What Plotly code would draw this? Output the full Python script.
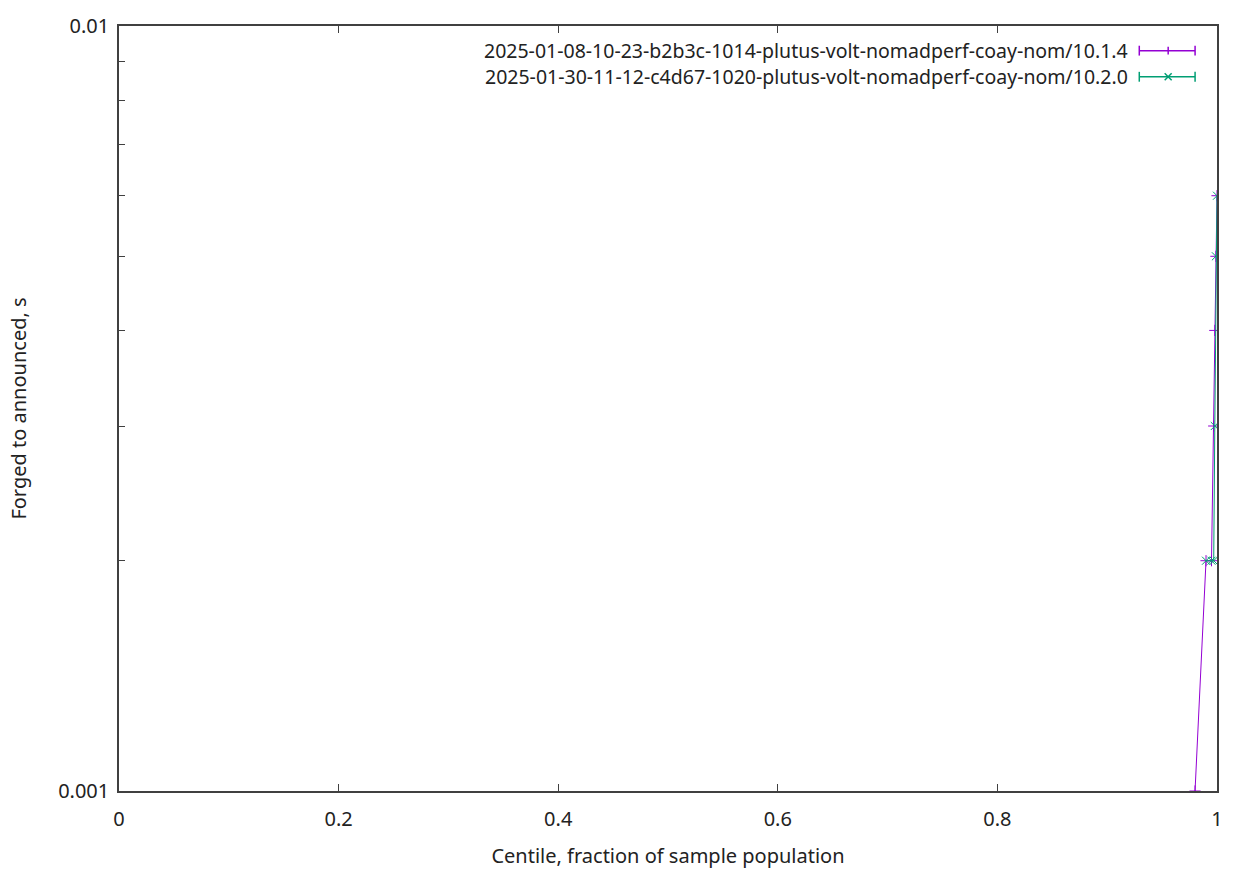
import plotly.graph_objects as go

# ---- data ----
series_names = [
    "2025-01-08-10-23-b2b3c-1014-plutus-volt-nomadperf-coay-nom/10.1.4",
    "2025-01-30-11-12-c4d67-1020-plutus-volt-nomadperf-coay-nom/10.2.0",
]
centiles_a = [0.98, 0.99, 0.995, 0.997, 0.998, 0.999, 1.0]
values_a = [0.001, 0.002, 0.002, 0.003, 0.004, 0.005, 0.006]
centiles_b = [0.99, 0.995, 0.997, 0.998, 0.999, 1.0]
values_b = [0.002, 0.002, 0.002, 0.003, 0.005, 0.006]
x_ticks = [0, 0.2, 0.4, 0.6, 0.8, 1]
x_tick_labels = ["0", "0.2", "0.4", "0.6", "0.8", "1"]
y_ticks = [0.001, 0.002, 0.003, 0.004, 0.005, 0.006, 0.007, 0.008, 0.009, 0.01]
y_tick_labels = ["0.001", "", "", "", "", "", "", "", "", "0.01"]

colors = ["#9400d3", "#009e73"]
symbols = ["cross-thin", "x-thin"]

FONT = "Noto Sans"
FS = 20
W, H = 1235, 876
L, R, T, B = 119, 14, 15, 85
PW, PH = W - L - R, H - T - B

fig = go.Figure()
for xs, ys, c, s, n in [
    (centiles_a, values_a, colors[0], symbols[0], series_names[0]),
    (centiles_b, values_b, colors[1], symbols[1], series_names[1]),
]:
    fig.add_trace(go.Scatter(
        x=xs, y=ys, mode="lines+markers", name=n,
        line=dict(color=c, width=1),
        marker=dict(symbol=s, size=8, color=c, line=dict(color=c, width=1)),
        cliponaxis=True, showlegend=False,
    ))

# gnuplot-style legend drawn in paper coords
def px2x(px):
    return (px - L) / PW

def py2y(py):
    return (H - B - py) / PH

shapes = []
annotations = []
for i, (n, c, s) in enumerate(zip(series_names, colors, symbols)):
    py = 40 + i * 26.5
    y = py2y(py)
    annotations.append(dict(
        x=px2x(1134), y=y, xref="paper", yref="paper", xanchor="right", yanchor="middle",
        text=n, showarrow=False, font=dict(family=FONT, size=19.5, color="#222")))
    x0, x1, xm = px2x(1143), px2x(1199), px2x(1172)
    lw = 1.5
    shapes.append(dict(type="line", xref="paper", yref="paper", x0=x0, x1=x1, y0=y, y1=y,
                       line=dict(color=c, width=lw)))
    for xc in (x0, x1):
        shapes.append(dict(type="line", xref="paper", yref="paper", x0=xc, x1=xc,
                           y0=y - 5 / PH, y1=y + 5 / PH, line=dict(color=c, width=lw)))
    if s == "cross-thin":
        shapes.append(dict(type="line", xref="paper", yref="paper", x0=xm, x1=xm,
                           y0=y - 4 / PH, y1=y + 4 / PH, line=dict(color=c, width=lw)))
    else:
        d = 3.5
        shapes.append(dict(type="line", xref="paper", yref="paper", x0=xm - d / PW, x1=xm + d / PW,
                           y0=y - d / PH, y1=y + d / PH, line=dict(color=c, width=lw)))
        shapes.append(dict(type="line", xref="paper", yref="paper", x0=xm - d / PW, x1=xm + d / PW,
                           y0=y + d / PH, y1=y - d / PH, line=dict(color=c, width=lw)))

AX = "#404040"
fig.update_layout(
    width=W, height=H,
    margin=dict(l=L, r=R, t=T, b=B),
    paper_bgcolor="white", plot_bgcolor="white",
    font=dict(family=FONT, size=FS, color="#222"),
    shapes=shapes, annotations=annotations,
    xaxis=dict(
        range=[0, 1], tickvals=x_ticks, ticktext=x_tick_labels,
        ticks="inside", ticklen=7, tickcolor=AX, showline=True, linecolor=AX,
        linewidth=1.5, mirror="allticks", showgrid=False, zeroline=False,
        ticklabelstandoff=9,
        title=dict(text="Centile, fraction of sample population", standoff=18,
                   font=dict(family=FONT, size=FS)),
        tickfont=dict(family=FONT, size=FS),
    ),
    yaxis=dict(
        type="log", range=[-3, -2], tickvals=y_ticks, ticktext=y_tick_labels,
        ticks="inside", ticklen=6, tickcolor=AX, showline=True, linecolor=AX,
        linewidth=1.5, mirror=True, showgrid=False, zeroline=False,
        ticklabelstandoff=4,
        title=dict(text="Forged to announced, s", standoff=26,
                   font=dict(family=FONT, size=FS)),
        tickfont=dict(family=FONT, size=FS),
    ),
)

fig.write_html(
    "out.html", config={"displayModeBar": False},
    post_script=(
        "document.documentElement.style.margin='0';"
        "document.documentElement.style.overflow='hidden';"
        "document.body.style.margin='0';document.body.style.padding='0';"
        "document.body.style.overflow='hidden';"
    ),
)
